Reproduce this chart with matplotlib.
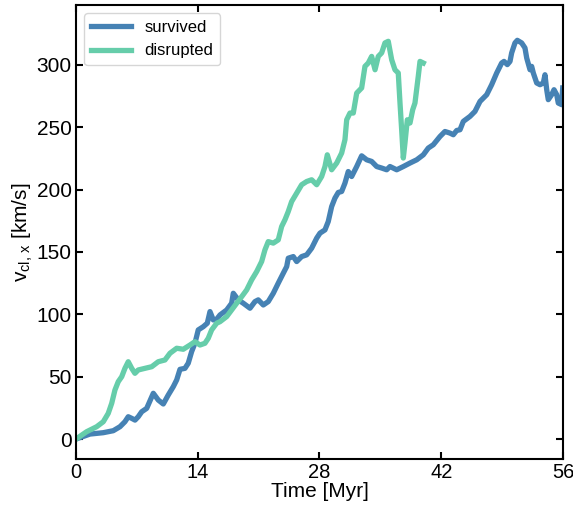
import matplotlib
matplotlib.use("Agg")
import matplotlib.pyplot as plt

plt.rcParams["font.family"] = ["Liberation Sans", "DejaVu Sans"]
plt.rcParams["font.size"] = 15
plt.rcParams["mathtext.fontset"] = "custom"
plt.rcParams["mathtext.rm"] = "Liberation Sans"
plt.rcParams["mathtext.it"] = "Liberation Sans"

# survived cluster: time [Myr] and v_cl,x [km/s]
t_surv = [0.0, 1.61, 3.14, 4.29, 5.06, 5.63, 6.01, 6.41, 6.79, 7.16, 7.56, 8.13,
          8.89, 9.46, 10.04, 10.61, 11.19, 11.58, 11.96, 12.53, 12.91, 13.30, 13.68,
          14.06, 14.64, 15.10, 15.41, 15.79, 16.18, 16.56, 17.33, 17.90, 18.09, 18.66,
          19.24, 20.01, 20.58, 20.96, 21.54, 22.11, 22.69, 23.26, 23.84, 24.23, 24.41,
          24.99, 25.38, 25.95, 26.53, 27.10, 27.68, 28.06, 28.63, 29.01, 29.40, 29.78,
          30.16, 30.55, 30.93, 31.31, 31.70, 32.28, 32.85, 33.43, 34.00, 34.58, 35.15,
          35.73, 36.11, 36.88, 37.64, 38.41, 39.18, 39.94, 40.51, 41.09, 41.86, 42.43,
          43.01, 43.39, 43.78, 44.16, 44.54, 45.31, 45.88, 46.46, 47.23, 47.80, 48.38,
          48.95, 49.22, 49.60, 49.91, 50.10, 50.48, 50.75, 51.25, 51.63, 51.83, 52.21,
          52.40, 52.59, 52.98, 53.36, 53.74, 53.93, 54.13, 54.31, 54.70, 54.97, 55.28,
          55.46, 55.85, 55.97]
v_surv = [0.0, 4.0, 5.1, 6.7, 9.9, 13.9, 17.9, 16.6, 15.2, 17.9, 21.9, 24.6,
          36.7, 31.3, 28.1, 35.3, 42.0, 47.4, 55.9, 56.7, 60.8, 70.1, 76.8,
          87.5, 90.1, 92.9, 102.2, 95.5, 96.1, 99.5, 103.5, 108.9, 116.9, 111.6,
          108.9, 104.9, 110.2, 111.6, 107.5, 110.2, 116.9, 125.0, 133.0, 138.3, 145.0,
          146.3, 142.3, 146.3, 147.7, 153.0, 161.1, 165.1, 167.7, 174.4, 186.4, 193.2,
          197.7, 198.5, 205.2, 214.5, 210.5, 218.5, 227.1, 223.9, 222.6, 218.5, 217.3,
          215.9, 218.5, 215.9, 218.5, 221.3, 223.9, 227.9, 233.3, 236.0, 242.6, 246.6,
          245.3, 244.0, 247.4, 248.0, 254.7, 258.7, 262.7, 270.7, 276.1, 284.1, 293.5,
          301.5, 302.8, 300.2, 302.8, 309.6, 317.6, 319.7, 317.6, 313.6, 305.5, 296.1,
          298.8, 293.5, 285.5, 284.1, 285.5, 292.1, 280.1, 272.1, 276.1, 280.1, 276.1,
          269.4, 268.1, 281.5]

# disrupted cluster
t_disr = [0.0, 1.23, 2.38, 3.14, 3.71, 4.11, 4.48, 4.86, 5.26, 5.63, 6.01, 6.41,
          6.78, 7.16, 7.93, 8.71, 9.46, 10.23, 10.81, 11.58, 12.34, 13.11, 13.68,
          14.26, 14.83, 15.21, 15.60, 16.18, 16.56, 17.33, 17.90, 18.48, 19.06, 19.63,
          20.20, 20.78, 21.35, 21.73, 22.11, 22.69, 23.26, 23.65, 24.03, 24.41, 24.80,
          25.38, 25.95, 26.53, 27.10, 27.68, 28.25, 28.63, 28.90, 29.40, 29.98, 30.55,
          30.93, 31.13, 31.51, 31.89, 32.28, 32.85, 33.23, 33.61, 34.00, 34.39, 34.76,
          35.15, 35.53, 35.91, 36.30, 36.68, 37.06, 37.26, 37.45, 37.64, 37.83, 38.10,
          38.41, 38.72, 38.98, 39.36, 39.56, 39.94]
v_disr = [0.0, 5.9, 9.9, 13.9, 20.6, 28.7, 39.3, 46.0, 50.0, 56.7, 62.0, 56.7,
          52.7, 55.4, 56.7, 58.0, 62.0, 63.4, 68.8, 72.8, 72.0, 75.4, 78.1,
          75.4, 76.8, 80.8, 87.5, 92.9, 94.1, 98.2, 103.5, 108.9, 114.2, 119.6,
          127.6, 134.3, 142.3, 151.7, 158.3, 157.1, 159.7, 170.4, 175.8, 182.4, 190.4,
          197.2, 203.9, 206.5, 207.9, 203.9, 210.5, 218.5, 227.9, 215.9, 221.3, 229.3,
          240.0, 256.0, 261.4, 261.4, 277.4, 281.5, 298.8, 301.5, 306.8, 296.1, 306.8,
          309.6, 317.6, 318.9, 304.2, 296.1, 293.5, 269.4, 248.0, 225.3, 237.3, 256.0,
          253.4, 264.0, 269.4, 290.8, 302.8, 301.5]

x_ticks = [0, 14, 28, 42, 56]
y_ticks = [0, 50, 100, 150, 200, 250, 300]

fig = plt.figure(figsize=(5.73, 5.12), dpi=100)
ax = fig.add_axes([0.1326, 0.1035, 0.8499, 0.8867])

ax.plot(t_surv, v_surv, color="steelblue", lw=3.8, label="survived")
ax.plot(t_disr, v_disr, color="mediumaquamarine", lw=3.8, label="disrupted")

ax.set_xlim(0, 56)
ax.set_ylim(-16, 348)
ax.set_xticks(x_ticks)
ax.set_yticks(y_ticks)
ax.tick_params(direction="in", top=True, right=True, length=5, width=1.5, pad=3)
ax.tick_params(axis="x", labelsize=14.5)
for sp in ax.spines.values():
    sp.set_linewidth(1.5)

ax.set_xlabel("Time [Myr]", labelpad=0)
ax.set_ylabel(r"v$_{\mathrm{cl,\,x}}$ [km/s]", labelpad=1)
ax.legend(loc="upper left", fontsize=12, handlelength=2.4, borderaxespad=0.5)

fig.savefig("out.png", dpi=100)
